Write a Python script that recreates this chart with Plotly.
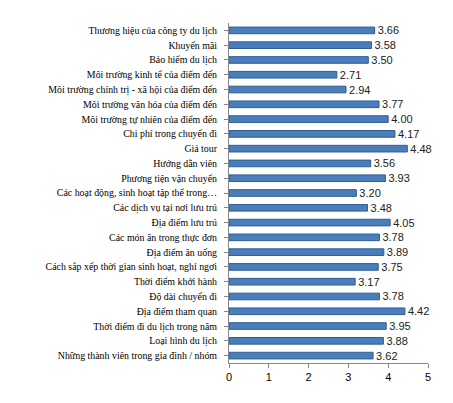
import plotly.graph_objects as go


CATEGORIES = [
    "Thương hiệu của công ty du lịch",
    "Khuyến mãi",
    "Bảo hiểm du lịch",
    "Môi trường kinh tế của điểm đến",
    "Môi trường chính trị - xã hội của điểm đến",
    "Môi trường văn hóa của điểm đến",
    "Môi trường tự nhiên của điểm đến",
    "Chi phí trong chuyến đi",
    "Giá tour",
    "Hướng dẫn viên",
    "Phương tiện vận chuyển",
    "Các hoạt động, sinh hoạt tập thể trong…",
    "Các dịch vụ tại nơi lưu trú",
    "Địa điểm lưu trú",
    "Các món ăn trong thực đơn",
    "Địa điểm ăn uống",
    "Cách sắp xếp thời gian sinh hoạt, nghỉ ngơi",
    "Thời điểm khởi hành",
    "Độ dài chuyến đi",
    "Địa điểm tham quan",
    "Thời điểm đi du lịch trong năm",
    "Loại hình du lịch",
    "Những thành viên trong gia đình / nhóm",
]

SCORES = [
    3.66, 3.58, 3.50, 2.71, 2.94, 3.77, 4.00, 4.17, 4.48, 3.56, 3.93, 3.20,
    3.48, 4.05, 3.78, 3.89, 3.75, 3.17, 3.78, 4.42, 3.95, 3.88, 3.62,
]

X_TICKS = [0, 1, 2, 3, 4, 5]


def build_chart() -> go.Figure:
    fig = go.Figure(
        go.Bar(
            x=SCORES,
            y=CATEGORIES,
            orientation="h",
            width=0.45,
            marker=dict(color="#4A7EBB", line=dict(color="#2F5E96", width=1)),
            text=[f"{v:.2f}" for v in SCORES],
            textposition="outside",
            constraintext="none",
            textfont=dict(family="Liberation Sans, Arial", size=11, color="#222222"),
            cliponaxis=False,
        )
    )

    fig.update_xaxes(
        range=[0, 5],
        tickvals=X_TICKS,
        showgrid=False,
        zeroline=False,
        showline=True,
        linecolor="#868686",
        linewidth=1,
        ticks="outside",
        ticklen=4,
        tickcolor="#868686",
        automargin=False,
        tickfont=dict(family="Liberation Sans, Arial", size=11, color="#000000"),
    )
    fig.update_yaxes(
        autorange="reversed",
        showgrid=False,
        showline=True,
        linecolor="#868686",
        linewidth=1,
        ticks="outside",
        ticklen=4,
        tickcolor="#868686",
        ticklabelstandoff=5,
        automargin=False,
        tickfont=dict(family="Liberation Serif, Times New Roman", size=9.9, color="#000000"),
    )

    # the page adds an 8px body margin, so the plot box is shifted back by that much
    fig.update_layout(
        width=453,
        height=403,
        margin=dict(l=221, r=33, t=15, b=48),
        plot_bgcolor="white",
        paper_bgcolor="white",
        showlegend=False,
    )
    return fig


def main() -> None:
    fig = build_chart()
    fig.write_html("out.html")


if __name__ == "__main__":
    main()
